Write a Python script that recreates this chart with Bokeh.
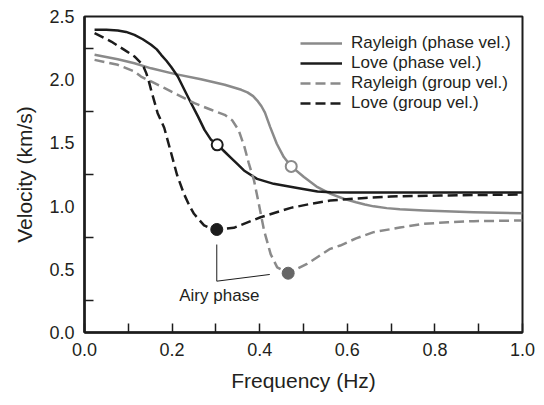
from bokeh.plotting import figure
from bokeh.models import Range1d, FixedTicker, PrintfTickFormatter, Legend, LegendItem
from bokeh.core.properties import value
from bokeh.embed import file_html
from bokeh.resources import INLINE

FONT = "Liberation Sans"
TXT = "#231f20"
GRAY = "#8a8a8a"
BLACK = "#1c1c1c"

# ---- data (frequency in Hz, velocity in km/s) ----
rayleigh_phase_f = [0.023, 0.076, 0.114, 0.152, 0.205, 0.266, 0.32, 0.358, 0.372, 0.385, 0.396, 0.404,
                    0.412, 0.424, 0.439, 0.455, 0.472, 0.501, 0.532, 0.562, 0.592, 0.62, 0.64, 0.66,
                    0.69, 0.72, 0.775, 0.888, 1.0]
rayleigh_phase_v = [2.197, 2.162, 2.13, 2.09, 2.046, 2.004, 1.96, 1.92, 1.90, 1.87, 1.828, 1.79,
                    1.74, 1.625, 1.493, 1.388, 1.314, 1.23, 1.15, 1.097, 1.058, 1.03, 1.012, 0.998,
                    0.984, 0.975, 0.965, 0.952, 0.944]

love_phase_f = [0.023, 0.05, 0.076, 0.095, 0.114, 0.133, 0.152, 0.165, 0.175, 0.187, 0.198, 0.213,
                0.228, 0.2435, 0.259, 0.274, 0.289, 0.304, 0.32, 0.335, 0.35, 0.364, 0.394, 0.432,
                0.486, 0.532, 0.562, 0.607, 0.7, 0.8, 0.9, 1.0]
love_phase_v = [2.395, 2.395, 2.39, 2.378, 2.355, 2.32, 2.276, 2.24, 2.197, 2.15, 2.10, 2.025,
                1.92, 1.814, 1.71, 1.603, 1.524, 1.485, 1.43, 1.38, 1.33, 1.282, 1.215, 1.176,
                1.144, 1.115, 1.11, 1.108, 1.108, 1.108, 1.108, 1.108]

rayleigh_group_f = [0.023, 0.076, 0.114, 0.129, 0.152, 0.183, 0.213, 0.251, 0.289, 0.32, 0.337, 0.352,
                    0.365, 0.375, 0.387, 0.398, 0.41, 0.425, 0.44, 0.465, 0.508, 0.561, 0.584, 0.62,
                    0.66, 0.72, 0.775, 0.83, 0.889, 1.0]
rayleigh_group_v = [2.157, 2.118, 2.065, 2.025, 1.986, 1.933, 1.88, 1.814, 1.762, 1.722, 1.68, 1.60,
                    1.47, 1.34, 1.203, 1.018, 0.807, 0.62, 0.515, 0.469, 0.543, 0.662, 0.688, 0.745,
                    0.794, 0.83, 0.86, 0.872, 0.881, 0.886]

love_group_f = [0.023, 0.061, 0.091, 0.114, 0.129, 0.135, 0.141, 0.146, 0.152, 0.167, 0.182, 0.197,
                0.211, 0.227, 0.24, 0.25, 0.262, 0.273, 0.287, 0.302, 0.341, 0.402, 0.471, 0.52,
                0.561, 0.584, 0.64, 0.699, 0.813, 1.0]
love_group_v = [2.368, 2.302, 2.236, 2.184, 2.131, 2.10, 2.052, 2.0, 1.92, 1.735, 1.62, 1.43,
                1.25, 1.097, 1.0, 0.939, 0.89, 0.847, 0.825, 0.815, 0.828, 0.912, 0.986, 1.02,
                1.044, 1.05, 1.065, 1.076, 1.084, 1.092]

# highlighted points
love_phase_pt = (0.303, 1.485)
rayleigh_phase_pt = (0.472, 1.314)
love_group_pt = (0.302, 0.815)
rayleigh_group_pt = (0.465, 0.469)

# Airy phase annotation leader line and label
airy_line_f = [0.302, 0.302, 0.423]
airy_line_v = [0.696, 0.406, 0.459]
airy_label = "Airy phase"
airy_label_pos = (0.308, 0.293)

x_ticks = [0.0, 0.2, 0.4, 0.6, 0.8, 1.0]
x_minor = [0.1, 0.3, 0.5, 0.7, 0.9]
y_ticks = [0.0, 0.5, 1.0, 1.5, 2.0, 2.5]
y_minor = [0.25, 0.75, 1.25, 1.75, 2.25]

p = figure(width=536, height=397, x_range=Range1d(0, 1), y_range=Range1d(0, 2.5),
           output_backend="svg", toolbar_location=None,
           min_border_left=84, min_border_right=14, min_border_top=16, min_border_bottom=65)
p.xgrid.visible = False
p.ygrid.visible = False
p.outline_line_color = BLACK
p.outline_line_width = 2
p.outline_line_alpha = 1
p.background_fill_color = "white"
p.border_fill_color = "white"

p.xaxis.ticker = FixedTicker(ticks=x_ticks, minor_ticks=x_minor)
p.yaxis.ticker = FixedTicker(ticks=y_ticks, minor_ticks=y_minor)
for ax in (p.xaxis, p.yaxis):
    ax.formatter = PrintfTickFormatter(format="%.1f")
    ax.axis_line_width = 2.5
    ax.axis_line_color = BLACK
    ax.major_label_text_font = FONT
    ax.major_label_text_font_size = "18px"
    ax.major_label_text_color = TXT
    ax.axis_label_text_font = FONT
    ax.axis_label_text_font_size = "21px"
    ax.axis_label_text_font_style = "normal"
    ax.axis_label_text_color = TXT
    ax.major_label_standoff = 10
    ax.minor_tick_in = 9
    ax.minor_tick_out = 0
    ax.minor_tick_line_width = 1.5
    ax.minor_tick_line_color = BLACK
    ax.major_tick_line_width = 1.5
    ax.major_tick_line_color = BLACK
    ax.major_tick_out = 0
p.xaxis.major_tick_in = 9
p.yaxis.major_tick_in = 0
p.xaxis.axis_label = "Frequency (Hz)"
p.yaxis.axis_label = "Velocity (km/s)"
p.xaxis.axis_label_standoff = 10
p.yaxis.axis_label_standoff = 10

r1 = p.line(rayleigh_phase_f, rayleigh_phase_v, line_color=GRAY, line_width=2.5, line_join="round")
r2 = p.line(love_phase_f, love_phase_v, line_color=BLACK, line_width=2.5, line_join="round")
r3 = p.line(rayleigh_group_f, rayleigh_group_v, line_color=GRAY, line_width=2.5, line_dash="10 5",
            line_join="round")
r4 = p.line(love_group_f, love_group_v, line_color=BLACK, line_width=2.5, line_dash="10 5",
            line_join="round")

p.line(airy_line_f, airy_line_v, line_color=BLACK, line_width=1)

p.scatter([love_phase_pt[0]], [love_phase_pt[1]], size=11, fill_color="white",
          line_color=BLACK, line_width=2)
p.scatter([rayleigh_phase_pt[0]], [rayleigh_phase_pt[1]], size=11, fill_color="white",
          line_color=GRAY, line_width=2)
p.scatter([love_group_pt[0]], [love_group_pt[1]], size=12, fill_color=BLACK, line_color=BLACK)
p.scatter([rayleigh_group_pt[0]], [rayleigh_group_pt[1]], size=12, fill_color="#666666",
          line_color="#666666")

p.text([airy_label_pos[0]], [airy_label_pos[1]], text=[airy_label], text_font=value(FONT),
       text_font_size="17px", text_align="center", text_baseline="middle", text_color=TXT)

legend = Legend(items=[
    LegendItem(label="Rayleigh (phase vel.)", renderers=[r1]),
    LegendItem(label="Love (phase vel.)", renderers=[r2]),
    LegendItem(label="Rayleigh (group vel.)", renderers=[r3]),
    LegendItem(label="Love (group vel.)", renderers=[r4]),
], location=(216, 219))
legend.border_line_color = None
legend.background_fill_alpha = 0
legend.label_text_font = FONT
legend.label_text_font_size = "17px"
legend.label_text_color = TXT
legend.glyph_width = 42
legend.glyph_height = 20
legend.label_height = 20
legend.label_standoff = 9
legend.spacing = 0
legend.padding = 0
legend.margin = 0
p.add_layout(legend, "center")

open("out.html", "w").write(file_html(p, INLINE))
